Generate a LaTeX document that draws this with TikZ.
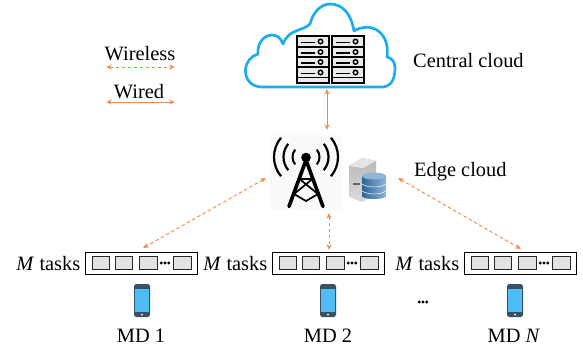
\documentclass[tikz,border=0pt]{standalone}
\usepackage{fontspec}
\setmainfont{Liberation Serif}
\usetikzlibrary{arrows.meta}
\definecolor{linkc}{HTML}{F08A4C}
\definecolor{cloudc}{HTML}{1CAEEC}
\definecolor{slotc}{HTML}{E2E2E2}
\definecolor{phonec}{HTML}{3A5063}
\definecolor{screenc}{HTML}{4DBDF5}
\definecolor{dbd}{HTML}{2F6497}
\definecolor{dbl}{HTML}{8DB6D8}
\tikzset{
  lbl/.style={font=\fontsize{20.4}{23}\selectfont,inner sep=0pt,text=black},
  lnk/.style={draw=linkc,line width=0.9pt,{Stealth[length=5.5pt,width=5pt]}-{Stealth[length=5.5pt,width=5pt]}},
  wl/.style={lnk,dash pattern=on 3.5pt off 2.5pt},
  hook/.style={inner sep=0pt,minimum size=0pt},
  slot/.style={draw=black!85,fill=slotc,line width=1pt},
  rack/.style={draw=black,line width=1.8pt,fill=white},
  rackrow/.style={draw=black,line width=1.4pt,fill=black!8},
}
\newcommand{\tinydots}[2]{\fill (#1-3.8,#2) circle (1.6) (#1,#2) circle (1.6) (#1+3.8,#2) circle (1.6);}
\newcommand{\taskbox}[1]{%
  \begin{scope}[shift={(#1,0)}]
    \draw[black,line width=1pt,fill=white] (85,252) rectangle (197,274);
    \draw[slot] (92,256.5) rectangle (109,269.5);
    \draw[slot] (115,256.5) rectangle (132,269.5);
    \draw[slot] (139,256.5) rectangle (157,269.5);
    \draw[slot] (173.5,256.5) rectangle (191,269.5);
    \tinydots{165}{263}
    \node[lbl,anchor=base east] at (80.5,270) {\textit{M} tasks};
  \end{scope}}
\newcommand{\phoneicon}[1]{%
  \begin{scope}[shift={(#1,0)}]
    \fill[phonec,rounded corners=1.8pt] (134,284) rectangle (150,317);
    \fill[screenc] (135.2,289) rectangle (148.8,312);
    \fill[white] (142,314.5) circle (1);
  \end{scope}}
\newcommand{\rackcol}[1]{%
  \begin{scope}[shift={(#1,0)}]
    \draw[rack] (296.5,35.5) rectangle (329,83);
    \foreach \yy in {36.5,47,57,67.5}{
      \draw[rackrow] (297,\yy) rectangle (328.5,\yy+10);
      \draw[black,line width=1.3pt] (301,\yy+6) -- (315,\yy+6);
      \draw[black,line width=1.5pt,fill=white] (320.5,\yy+5) circle (2.2);
    }
    \draw[rackrow] (297,77.5) rectangle (328.5,83);
  \end{scope}}
\begin{document}
\begin{tikzpicture}[x=1pt,y=-1pt]
\useasboundingbox (0,0) rectangle (583,349);
% cloud
\draw[cloudc,line width=2.7pt,line join=round,fill=white]
  (262,87) .. controls (252,87) and (245,80) .. (245.5,70)
  .. controls (246,62) and (251,56) .. (258,54)
  .. controls (257,43) and (264,35) .. (272,35)
  .. controls (277,35) and (281,38) .. (283,44)
  .. controls (285,38) and (290,33) .. (296,31)
  .. controls (300,29) and (306,28) .. (310,24)
  .. controls (313,12) and (321,4) .. (330,4)
  .. controls (342,4) and (351,13) .. (354,31)
  .. controls (360,27) and (369,26) .. (375,29)
  .. controls (383,33) and (389,42) .. (387,57)
  .. controls (392,58) and (395,62) .. (395,68)
  .. controls (395,78) and (392,86) .. (383,87)
  -- cycle;
\rackcol{0}
\rackcol{35}
\node[hook] (cloudb) at (327,89) {};
% tower
\fill[black!2] (270,135) rectangle (342,210);
\coordinate (tc) at (304,157);
\coordinate (tcr) at (308,157);
\foreach \rr/\lw in {30/2.2,20.5/2.2,11.5/2}{
  \draw[black,line width=\lw pt] (tc) ++(140:\rr) arc[start angle=140,end angle=220,radius=\rr];
  \draw[black,line width=\lw pt] (tcr) ++(40:\rr) arc[start angle=40,end angle=-40,radius=\rr];
}
\fill[black] (306,157.5) circle (4.8);
\draw[black,line width=3.6pt,line cap=round,line join=round] (289,206.5) -- (306,160) -- (323,206.5);
\draw[black,line width=1.7pt] (299.5,179) -- (312.5,179) (299.5,179) -- (318,194) (312.5,179) -- (294,194) (294,194) -- (306,201) -- (318,194);
% server
\shade[top color=black!28,bottom color=black!14] (349,166) -- (362,158) -- (376,161) -- (376,195) -- (362,202) -- (349,197) -- cycle;
\fill[black!10] (349,166) -- (362,158) -- (376,161) -- (363,168) -- cycle;
\fill[black!60] (353,183) rectangle (360,185);
% database
\shade[left color=dbd,right color=dbl] (362,176) rectangle (386,196);
\shade[left color=dbd,right color=dbl] (374,196) ellipse (12 and 3);
\fill[dbl] (374,176) ellipse (12 and 3.5);
\draw[white,line width=0.5pt] (362,184) .. controls (368,188) and (380,188) .. (386,184);
\draw[white,line width=0.5pt] (362,191) .. controls (368,195) and (380,195) .. (386,191);
% anchors for links
\node[hook] (towert) at (327,130) {};
\node[hook] (towerl) at (266,178) {};
\node[hook] (towerb) at (329,213) {};
\node[hook] (serverr) at (398,178) {};
\node[hook] (q1) at (143,248) {};
\node[hook] (q2) at (329,250) {};
\node[hook] (q3) at (521,249) {};
\node[hook] (wla) at (106,67) {};
\node[hook] (wlb) at (175,67) {};
\node[hook] (wra) at (106,102) {};
\node[hook] (wrb) at (175,102) {};
\draw[lnk] (cloudb) -- (towert);
\draw[wl] (towerl) -- (q1);
\draw[wl] (towerb) -- (q2);
\draw[wl] (serverr) -- (q3);
\draw[wl] (wla) -- (wlb);
\draw[lnk] (wra) -- (wrb);
% task queues
\taskbox{0}
\taskbox{187}
\taskbox{379}
\phoneicon{0}
\phoneicon{186}
\phoneicon{373}
\tinydots{423}{302}
% labels
\node[lbl,anchor=base] (wltxt) at (140,60) {Wireless};
\node[lbl,anchor=base] (wrtxt) at (139,98) {Wired};
\node[lbl,anchor=base west] (cc) at (413,67) {Central cloud};
\node[lbl,anchor=base west] (ec) at (414,176) {Edge cloud};
\node[lbl,anchor=base] (md1) at (141,342) {MD 1};
\node[lbl,anchor=base] (md2) at (328,342) {MD 2};
\node[lbl,anchor=base] (mdn) at (514,342) {MD \textit{N}};
\end{tikzpicture}
\end{document}
